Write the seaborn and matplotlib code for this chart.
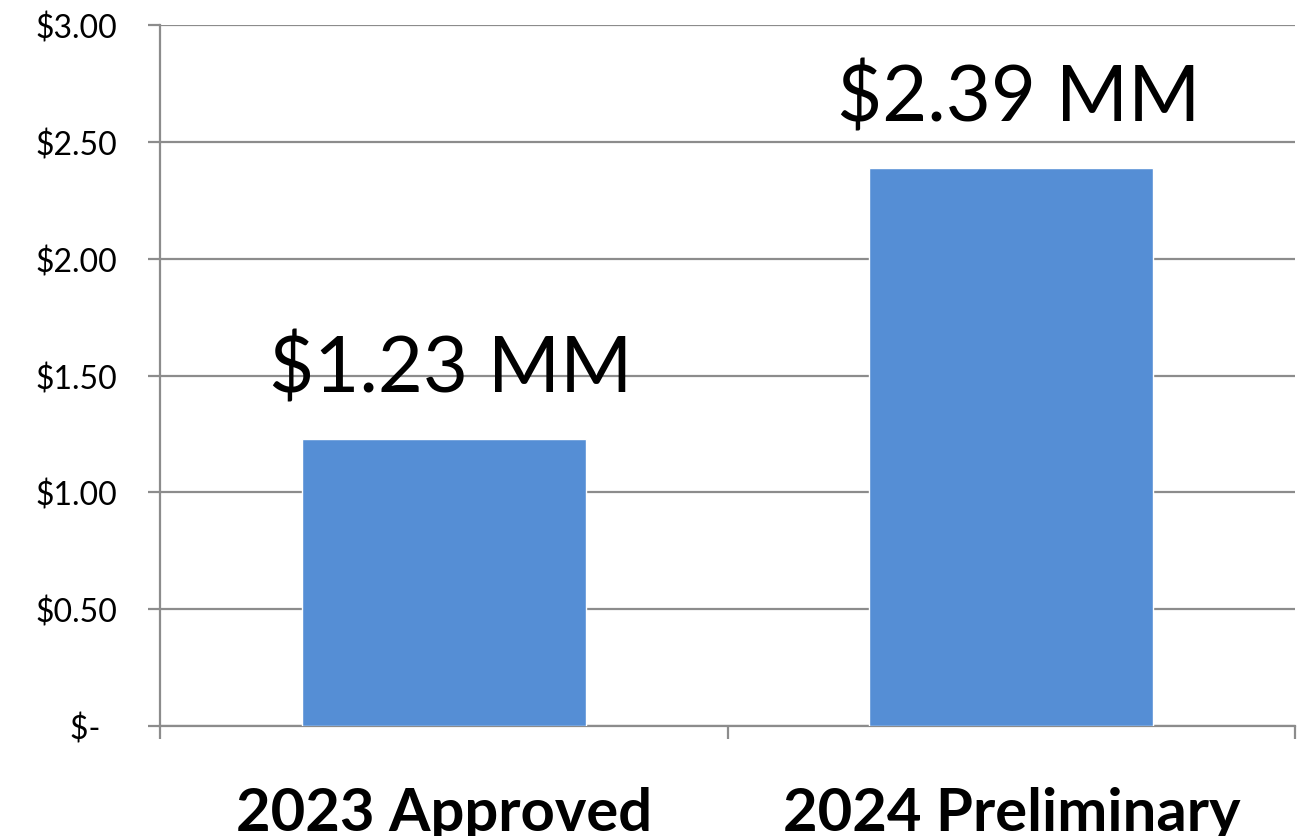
import pandas as pd
import matplotlib.pyplot as plt
import seaborn as sns
from matplotlib.ticker import FuncFormatter, FixedLocator

# === Data ===
categories = ["2023 Approved", "2024 Preliminary"]
values = [1.23, 2.39]
bar_labels = ["$1.23 MM", "$2.39 MM"]
y_ticks = [0, 0.5, 1.0, 1.5, 2.0, 2.5, 3.0]

df = pd.DataFrame({"category": categories, "value": values})

# === Style ===
sns.set_style("white")
plt.rcParams["font.family"] = ["Lato", "DejaVu Sans"]
plt.rcParams["text.color"] = "black"
plt.rcParams["xtick.color"] = "black"
plt.rcParams["ytick.color"] = "black"
GRID = "#8c8c8c"
BAR = "#558ed5"

fig = plt.figure(figsize=(13.06, 8.37), dpi=100)
ax = fig.add_axes([0.1225, 0.1314, 0.8691, 0.8375])

sns.barplot(data=df, x="category", y="value", color=BAR, saturation=1,
            width=0.5, ax=ax, zorder=3)

# === Axes ===
ax.set_xlim(-0.5, 1.5)
ax.set_ylim(0, 3.0)
ax.set_yticks(y_ticks)
ax.yaxis.set_major_formatter(FuncFormatter(lambda v, _: "$-  " if v == 0 else f"${v:.2f}"))
ax.grid(axis="y", color=GRID, linewidth=1.6, zorder=0)
ax.set_axisbelow(True)

for side in ["top", "right"]:
    ax.spines[side].set_visible(False)
for side in ["left", "bottom"]:
    ax.spines[side].set_color(GRID)
    ax.spines[side].set_linewidth(1.6)

ax.tick_params(axis="y", left=True, direction="out", length=9, width=1.6,
               color=GRID, labelcolor="black", pad=22, labelsize=23)
ax.tick_params(axis="x", which="major", bottom=True, length=0, pad=43,
               labelsize=43, labelcolor="black")
ax.xaxis.set_minor_locator(FixedLocator([-0.5, 0.5, 1.5]))
ax.tick_params(axis="x", which="minor", bottom=True, direction="out", length=9,
               width=1.6, color=GRID)
for lbl in ax.get_xticklabels():
    lbl.set_fontweight("bold")

ax.set_xlabel("")
ax.set_ylabel("")

# === Value labels ===
for i, (v, txt) in enumerate(zip(values, bar_labels)):
    ax.annotate(txt, (i, v), xytext=(5, 34), textcoords="offset points",
                ha="center", va="baseline", fontsize=56, color="black", zorder=4)

fig.savefig("out.png", dpi=100)
plt.close(fig)
